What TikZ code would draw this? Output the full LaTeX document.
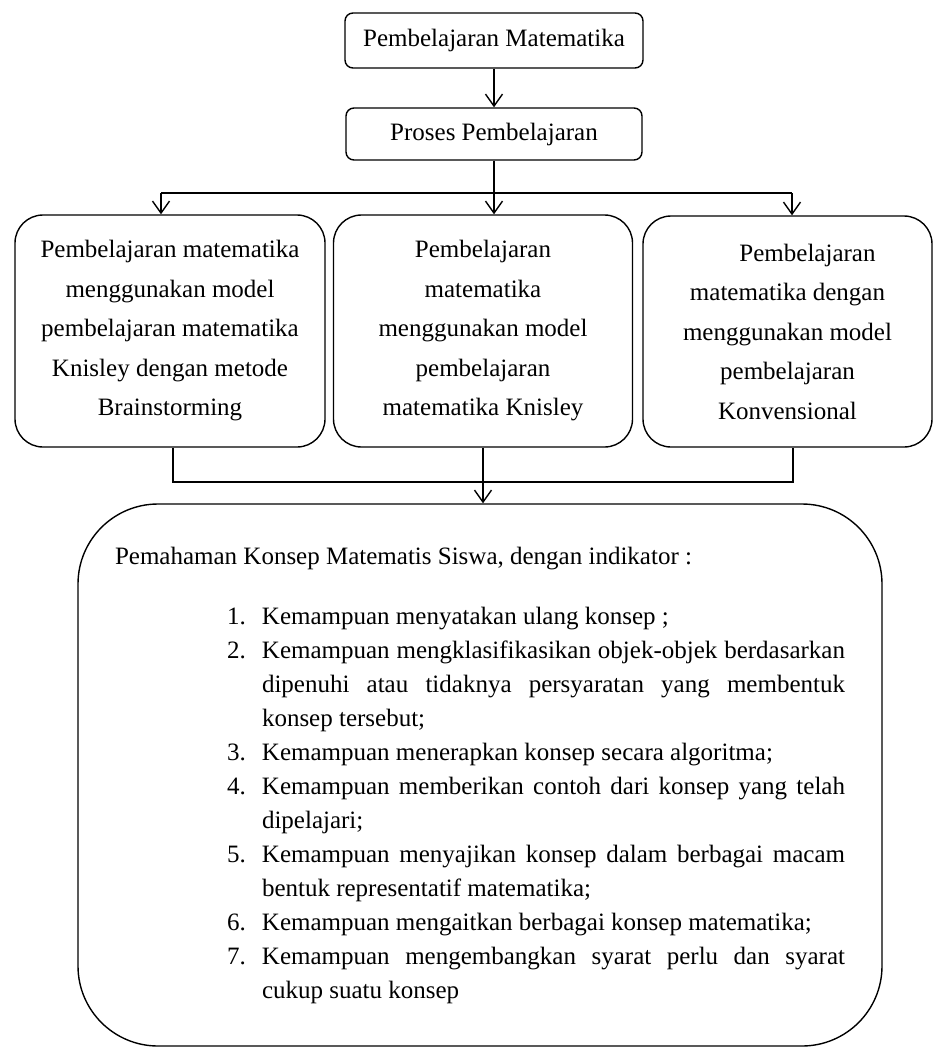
\documentclass[tikz,border=0pt]{standalone}
\usepackage{fontspec}
\setmainfont{Liberation Serif}
\usetikzlibrary{arrows.meta}
\begin{document}
\begin{tikzpicture}[x=1pt,y=-1pt,
  box/.style={draw, line width=1.4pt, inner sep=0pt, align=center},
  topbox/.style={box, rounded corners=8pt, font=\fontsize{25}{30}\selectfont},
  midbox/.style={box, rounded corners=28pt, font=\fontsize{25}{39.5}\selectfont},
  bigbox/.style={box, rounded corners=80pt, align=left, font=\fontsize{25}{34}\selectfont},
  link/.style={line width=1.4pt},
  arr/.style={link, -{Straight Barb[length=12pt,width=17pt]}}]
\useasboundingbox (0,0) rectangle (933,1047);

\node[topbox, minimum width=298pt, minimum height=55pt] (b1) at (494,40.5) {Pembelajaran Matematika};
\node[topbox, minimum width=296pt, minimum height=52pt] (b2) at (494,134) {Proses Pembelajaran};

\node[midbox, minimum width=310pt, minimum height=232pt] (L) at (170,331)
  {Pembelajaran matematika\\menggunakan model\\pembelajaran matematika\\Knisley dengan metode\\Brainstorming};
\node[midbox, minimum width=299pt, minimum height=232pt] (M) at (483,331)
  {Pembelajaran\\matematika\\menggunakan model\\pembelajaran\\matematika Knisley};
\node[midbox, minimum width=289pt, minimum height=231pt] (R) at (787.5,331.5)
  {\hspace*{40pt}Pembelajaran\\matematika dengan\\menggunakan model\\pembelajaran\\Konvensional};

\node[bigbox, minimum width=804pt, minimum height=542pt] (K) at (480,775)
  {Pemahaman Konsep Matematis Siswa, dengan indikator :\\[26pt]
   \hspace*{112pt}\makebox[35pt][l]{1.}Kemampuan menyatakan ulang konsep ;\\
   \hspace*{112pt}\makebox[35pt][l]{2.}\makebox[583pt][s]{Kemampuan mengklasifikasikan objek-objek berdasarkan}\\
   \hspace*{147pt}\makebox[583pt][s]{dipenuhi atau tidaknya persyaratan yang membentuk}\\
   \hspace*{147pt}konsep tersebut;\\
   \hspace*{112pt}\makebox[35pt][l]{3.}Kemampuan menerapkan konsep secara algoritma;\\
   \hspace*{112pt}\makebox[35pt][l]{4.}\makebox[583pt][s]{Kemampuan memberikan contoh dari konsep yang telah}\\
   \hspace*{147pt}dipelajari;\\
   \hspace*{112pt}\makebox[35pt][l]{5.}\makebox[583pt][s]{Kemampuan menyajikan konsep dalam berbagai macam}\\
   \hspace*{147pt}bentuk representatif matematika;\\
   \hspace*{112pt}\makebox[35pt][l]{6.}Kemampuan mengaitkan berbagai konsep matematika;\\
   \hspace*{112pt}\makebox[35pt][l]{7.}\makebox[583pt][s]{Kemampuan mengembangkan syarat perlu dan syarat}\\
   \hspace*{147pt}cukup suatu konsep};

\coordinate (hl) at (161,193);
\coordinate (hr) at (792,193);
\coordinate (bl) at (173,482);
\coordinate (br) at (793,482);

\draw[arr] (b1.south) -- (b2.north -| b1.south);
\draw[arr] (b2.south) -- (b2.south |- M.north);
\draw[link] (hl) -- (hr);
\draw[arr] (hl) -- (hl |- L.north);
\draw[arr] (hr) -- (hr |- R.north);
\draw[link] (bl |- L.south) -- (bl) -- (br) -- (br |- R.south);
\draw[arr] (M.south) -- (M.south |- K.north);
\end{tikzpicture}
\end{document}
